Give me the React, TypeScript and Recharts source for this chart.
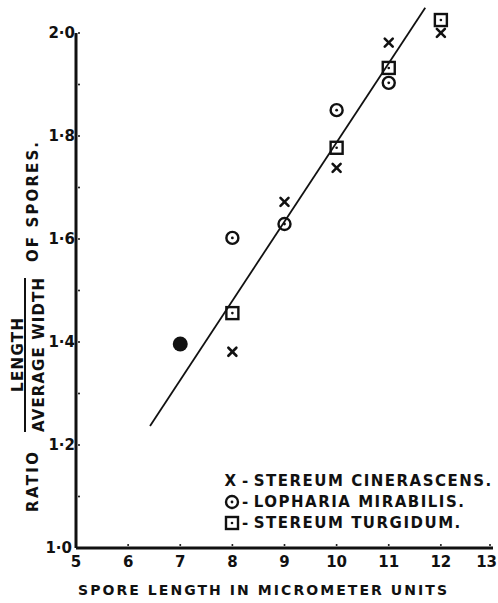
import React from 'react';
import { ScatterChart, Scatter, XAxis, YAxis, ReferenceLine, Legend } from 'recharts';

const xTicks = [5, 6, 7, 8, 9, 10, 11, 12, 13];
const yTicks = [1.0, 1.1, 1.2, 1.3, 1.4, 1.5, 1.6, 1.7, 1.8, 1.9, 2.0];

// X - Stereum cinerascens
const cinerascens = [
  { x: 8, y: 1.381 },
  { x: 9, y: 1.672 },
  { x: 10, y: 1.738 },
  { x: 11, y: 1.981 },
  { x: 12, y: 2.0 }
];

// O - Lopharia mirabilis
const mirabilis = [
  { x: 8, y: 1.602 },
  { x: 9, y: 1.629 },
  { x: 10, y: 1.85 },
  { x: 11, y: 1.903 }
];
// the point at 7 is printed as a solid blot
const mirabilisSolid = [{ x: 7, y: 1.396 }];

// square - Stereum turgidum
const turgidum = [
  { x: 8, y: 1.456 },
  { x: 10, y: 1.777 },
  { x: 11, y: 1.932 },
  { x: 12, y: 2.025 }
];

const fitLine = [
  { x: 6.42, y: 1.237 },
  { x: 11.7, y: 2.049 }
];
const yAxisSpan = [
  { x: 5, y: 1.0 },
  { x: 5, y: 2.0 }
];

const legendNames = ['STEREUM CINERASCENS.', 'LOPHARIA MIRABILIS.', 'STEREUM TURGIDUM.'];

const FONT = '"DejaVu Sans", sans-serif';
const INK = '#111';

const Cross = ({ cx, cy }: any) => (
  <g stroke={INK} strokeWidth={2.6} strokeLinecap="round">
    <line x1={cx - 4} y1={cy - 4} x2={cx + 4} y2={cy + 4} />
    <line x1={cx + 4} y1={cy - 4} x2={cx - 4} y2={cy + 4} />
  </g>
);

const DotCircle = ({ cx, cy }: any) => (
  <g>
    <circle cx={cx} cy={cy} r={6} fill="none" stroke={INK} strokeWidth={2.4} />
    <circle cx={cx} cy={cy} r={1.4} fill={INK} />
  </g>
);

const SolidCircle = ({ cx, cy }: any) => <circle cx={cx} cy={cy} r={7.5} fill={INK} />;

const DotSquare = ({ cx, cy }: any) => (
  <g>
    <rect x={cx - 6} y={cy - 6} width={12} height={12} fill="none" stroke={INK} strokeWidth={2.4} />
    <circle cx={cx} cy={cy} r={1.3} fill={INK} />
  </g>
);

const YTick = ({ x, y, payload }: any) => {
  const v = payload.value;
  const major = Math.round(v * 10) % 2 === 0;
  const isBottom = v === yTicks[0];
  return (
    <g>
      <circle cx={x + 3} cy={y} r={1} fill={INK} />
      {major && (
        <text
          x={isBottom ? x - 4 : x - 1}
          y={y}
          dy="0.36em"
          textAnchor="end"
          fontFamily={FONT}
          fontWeight="bold"
          fontSize={15}
          fill={INK}
        >
          {v.toFixed(1).replace('.', '·')}
        </text>
      )}
    </g>
  );
};

const XTick = ({ x, y, payload }: any) => {
  const isLast = payload.value === xTicks[xTicks.length - 1];
  return (
    <g>
      <circle cx={x} cy={y - 3} r={1} fill={INK} />
      <text
        x={isLast ? x + 7 : x}
        y={y + 19}
        textAnchor={isLast ? 'end' : 'middle'}
        fontFamily={FONT}
        fontWeight="bold"
        fontSize={15}
        fill={INK}
      >
        {payload.value}
      </text>
    </g>
  );
};

const titleStyle = {
  fontFamily: FONT,
  fontWeight: 'bold' as const,
  fontSize: 15,
  fill: INK
};

const YTitle = () => (
  <g>
    <text x={33} y={202} transform="rotate(-90 33 202)" textAnchor="middle" dominantBaseline="central"
      textLength={120} lengthAdjust="spacing" {...titleStyle}>
      OF SPORES.
    </text>
    <text x={18} y={355} transform="rotate(-90 18 355)" textAnchor="middle" dominantBaseline="central"
      textLength={74} lengthAdjust="spacing" {...titleStyle}>
      LENGTH
    </text>
    <line x1={25} y1={278} x2={25} y2={432} stroke={INK} strokeWidth={2} />
    <text x={39} y={355} transform="rotate(-90 39 355)" textAnchor="middle" dominantBaseline="central"
      textLength={154} lengthAdjust="spacing" {...titleStyle}>
      AVERAGE WIDTH
    </text>
    <text x={33} y={482} transform="rotate(-90 33 482)" textAnchor="middle" dominantBaseline="central"
      textLength={60} lengthAdjust="spacing" {...titleStyle}>
      RATIO
    </text>
  </g>
);

const XTitle = () => (
  <text x={78} y={595} textLength={369} lengthAdjust="spacing" {...titleStyle} fontSize={14}>
    SPORE LENGTH IN MICROMETER UNITS
  </text>
);

const legendMarks = [
  <text x={5} y={10} dy="0.36em" textAnchor="middle" fontFamily={FONT} fontWeight="bold" fontSize={15} fill={INK}>X</text>,
  <DotCircle cx={6} cy={10} />,
  <DotSquare cx={6} cy={10} />
];

const LegendBox = () => (
  <div style={{ fontFamily: FONT, fontWeight: 'bold', fontSize: 15, color: INK, letterSpacing: 1.5, whiteSpace: 'nowrap' }}>
    {legendNames.map((name, i) => (
      <div key={name} style={{ display: 'flex', alignItems: 'center', height: 21 }}>
        <svg width={13} height={20} style={{ overflow: 'visible' }}>{legendMarks[i]}</svg>
        <span style={{ margin: '0 4px 0 3px' }}>-</span>
        <span>{name}</span>
      </div>
    ))}
  </div>
);

export default function App() {
  return (
    <div style={{ position: 'absolute', left: 0, top: 0, background: '#fff' }}>
      <ScatterChart width={498} height={603} margin={{ top: 2, right: 5, left: 0, bottom: 0 }}>
        <XAxis
          type="number"
          dataKey="x"
          domain={[5, 13]}
          ticks={xTicks}
          height={55}
          tickSize={0}
          tickMargin={0}
          axisLine={{ stroke: INK, strokeWidth: 3 }}
          tick={<XTick />}
          label={{ content: () => <XTitle /> }}
        />
        <YAxis
          type="number"
          dataKey="y"
          domain={[1, 2.06]}
          ticks={yTicks}
          width={76}
          tickSize={0}
          tickMargin={0}
          axisLine={false}
          tick={<YTick />}
          label={{ content: () => <YTitle /> }}
        />
        <ReferenceLine segment={yAxisSpan} stroke={INK} strokeWidth={3} ifOverflow="visible" />
        <ReferenceLine segment={fitLine} stroke={INK} strokeWidth={1.8} ifOverflow="visible" />
        <Legend
          layout="vertical"
          align="center"
          verticalAlign="middle"
          content={() => <LegendBox />}
          wrapperStyle={{ position: 'absolute', left: 226, top: 470, width: 'auto' }}
        />
        <Scatter name="Stereum cinerascens" data={cinerascens} shape={<Cross />} isAnimationActive={false} />
        <Scatter name="Lopharia mirabilis" data={mirabilis} shape={<DotCircle />} isAnimationActive={false} />
        <Scatter name="Lopharia mirabilis (solid)" data={mirabilisSolid} shape={<SolidCircle />} legendType="none" isAnimationActive={false} />
        <Scatter name="Stereum turgidum" data={turgidum} shape={<DotSquare />} isAnimationActive={false} />
      </ScatterChart>
    </div>
  );
}
